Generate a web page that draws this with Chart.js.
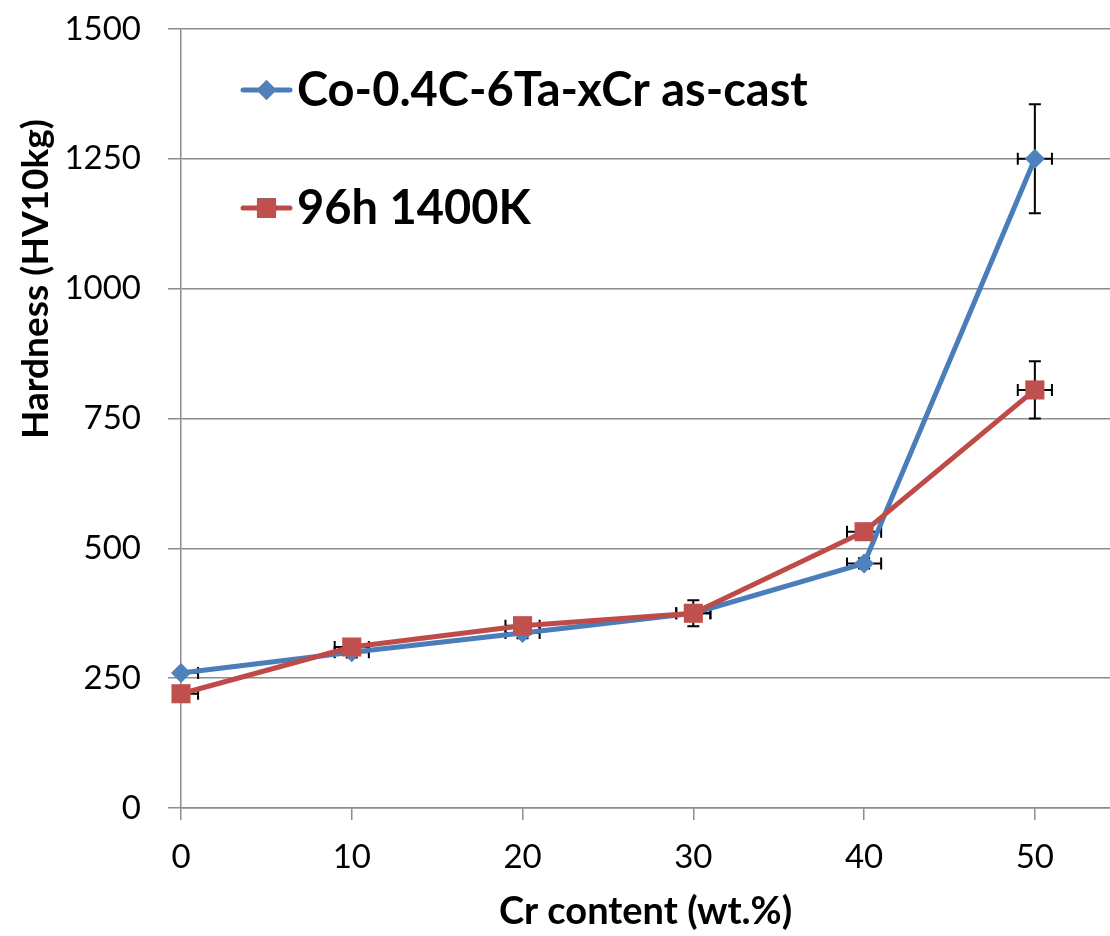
<!DOCTYPE html>
<html>
<head>
<meta charset="utf-8">
<script src="https://cdn.jsdelivr.net/npm/chart.js@4.4.1/dist/chart.umd.min.js"></script>
<style>
  html, body { margin: 0; padding: 0; background: #fff; overflow: hidden; }
  #wrap { width: 1110px; height: 936px; }
</style>
</head>
<body>
<div id="wrap"><canvas id="hardness-chart" width="1110" height="936"></canvas></div>
<script>
// dados
const crContent = [0, 10, 20, 30, 40, 50];
const asCast = [260, 300, 337, 375, 471, 1250];
const aged = [220, 310, 351, 375, 532, 805];
const asCastErr = [5, 10, 10, 10, 10, 105];
const agedErr = [5, 10, 10, 25, 10, 55];
const crErr = [1, 1, 1, 1, 1, 1];
const xTicks = [0, 10, 20, 30, 40, 50];
const yTicks = [0, 250, 500, 750, 1000, 1250, 1500];
const yTitle = "Hardness (HV10kg)";

const FONT = "Lato, 'Open Sans', sans-serif";
const GRID = "#8c8c8c";

function toPoints(xs, ys) {
  return xs.map((x, i) => ({ x: x, y: ys[i] }));
}

// barras de erro (x e y), desenhadas pelas escalas do próprio Chart.js
const errorBars = {
  id: "errorBars",
  beforeDatasetsDraw(chart) {
    const { ctx, chartArea, scales } = chart;
    const cap = 6;
    ctx.save();
    ctx.beginPath();
    ctx.rect(chartArea.left, chartArea.top, chartArea.right - chartArea.left, chartArea.bottom - chartArea.top);
    ctx.clip();
    ctx.strokeStyle = "#000";
    ctx.lineWidth = 2;
    chart.data.datasets.forEach((ds) => {
      ds.data.forEach((p, i) => {
        const px = scales.x.getPixelForValue(p.x);
        const py = scales.y.getPixelForValue(p.y);
        const x0 = scales.x.getPixelForValue(p.x - ds.xErr[i]);
        const x1 = scales.x.getPixelForValue(p.x + ds.xErr[i]);
        const y0 = scales.y.getPixelForValue(p.y - ds.yErr[i]);
        const y1 = scales.y.getPixelForValue(p.y + ds.yErr[i]);
        ctx.beginPath();
        ctx.moveTo(x0, py); ctx.lineTo(x1, py);
        ctx.moveTo(x0, py - cap); ctx.lineTo(x0, py + cap);
        ctx.moveTo(x1, py - cap); ctx.lineTo(x1, py + cap);
        ctx.moveTo(px, y0); ctx.lineTo(px, y1);
        ctx.moveTo(px - cap, y0); ctx.lineTo(px + cap, y0);
        ctx.moveTo(px - cap, y1); ctx.lineTo(px + cap, y1);
        ctx.stroke();
      });
    });
    ctx.restore();
  },
};

// legenda dentro da área do gráfico, estilo Excel (linha + marcador)
// + título do eixo Y deslocado para cima como no original
const insideLegend = {
  id: "insideLegend",
  afterDraw(chart) {
    const { ctx } = chart;
    const items = [chart.data.datasets[0], chart.data.datasets[1]];
    const x0 = 243, x1 = 290, rows = [90, 208];
    ctx.save();
    items.forEach((ds, i) => {
      const y = rows[i];
      ctx.strokeStyle = ds.borderColor;
      ctx.lineWidth = 5;
      ctx.lineCap = "round";
      ctx.beginPath();
      ctx.moveTo(x0, y); ctx.lineTo(x1, y);
      ctx.stroke();
      Chart.helpers.drawPoint(ctx, {
        pointStyle: ds.pointStyle,
        radius: ds.pointRadius,
        borderWidth: 0,
      }, (x0 + x1) / 2, y);
      ctx.fillStyle = ds.pointBackgroundColor;
      ctx.fill();
      ctx.fillStyle = "#000";
      ctx.font = "bold 47px " + FONT;
      ctx.textBaseline = "middle";
      ctx.textAlign = "left";
      ctx.fillText(ds.label, 297, y + 1);
    });

    ctx.translate(36, 279);
    ctx.rotate(-Math.PI / 2);
    ctx.font = "bold 37px " + FONT;
    ctx.textAlign = "center";
    ctx.textBaseline = "middle";
    ctx.fillStyle = "#000";
    ctx.fillText(yTitle, 0, 0);
    ctx.restore();
  },
};

new Chart(document.getElementById("hardness-chart"), {
  type: "line",
  plugins: [errorBars, insideLegend],
  data: {
    datasets: [
      {
        label: "Co-0.4C-6Ta-xCr as-cast",
        data: toPoints(crContent, asCast),
        xErr: crErr,
        yErr: asCastErr,
        borderColor: "#4a7ebb",
        borderWidth: 5,
        pointStyle: "rectRot",
        pointRadius: 10,
        pointBackgroundColor: "#4f81bd",
        pointBorderColor: "#4f81bd",
        pointBorderWidth: 0,
        tension: 0,
        clip: false,
        order: 1,
      },
      {
        label: "96h 1400K",
        data: toPoints(crContent, aged),
        xErr: crErr,
        yErr: agedErr,
        borderColor: "#be4b48",
        borderWidth: 5,
        pointStyle: "rect",
        pointRadius: 13.5,
        pointBackgroundColor: "#c0504d",
        pointBorderColor: "#c0504d",
        pointBorderWidth: 0,
        tension: 0,
        clip: false,
        order: 0,
      },
    ],
  },
  options: {
    responsive: false,
    animation: false,
    layout: { autoPadding: false, padding: { top: 29, right: 0, left: 0, bottom: 0 } },
    plugins: {
      legend: { display: false },
      tooltip: { enabled: false },
    },
    scales: {
      x: {
        type: "linear",
        min: 0,
        max: 54.4,
        afterBuildTicks: (scale) => {
          scale.ticks = xTicks.map((v) => ({ value: v }));
        },
        afterFit: (scale) => {
          scale.height = 128;
          scale.paddingLeft = 0;
          scale.paddingRight = 0;
        },
        ticks: {
          color: "#000",
          padding: 18,
          font: { family: FONT, size: 33 },
          callback: (v) => String(v),
        },
        grid: { drawOnChartArea: false, tickLength: 12, color: GRID, lineWidth: 1.5 },
        border: { color: GRID, width: 1.5 },
        title: {
          display: true,
          text: "Cr content (wt.%)",
          color: "#000",
          font: { family: FONT, size: 38, weight: "bold" },
          padding: { top: 0, bottom: 1 },
        },
      },
      y: {
        min: 0,
        max: 1500,
        afterBuildTicks: (scale) => {
          scale.ticks = yTicks.map((v) => ({ value: v }));
        },
        afterFit: (scale) => {
          scale.width = 181;
          scale.paddingTop = 0;
          scale.paddingBottom = 0;
        },
        ticks: {
          color: "#000",
          padding: 27,
          font: { family: FONT, size: 33 },
          callback: (v) => String(v),
        },
        grid: { tickLength: 13, color: GRID, lineWidth: 1.5 },
        border: { color: GRID, width: 1.5 },
      },
    },
  },
});
</script>
</body>
</html>
